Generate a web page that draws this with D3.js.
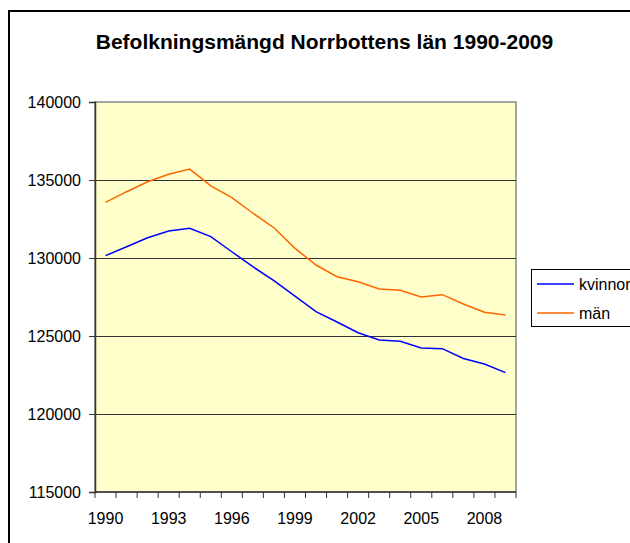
<!DOCTYPE html>
<html>
<head>
<meta charset="utf-8">
<script src="https://cdn.jsdelivr.net/npm/d3@7"></script>
<style>
  body { margin: 0; background: #fff; }
  svg { display: block; font-family: "Liberation Sans", Arial, sans-serif; }
</style>
</head>
<body>
<div id="chart"></div>
<script>
// Data
const years = d3.range(1990, 2010);
const kvinnor = [130150, 130720, 131300, 131730, 131900, 131370, 130400, 129440, 128550, 127560,
  126560, 125900, 125210, 124740, 124660, 124230, 124190, 123560, 123200, 122650];
const man = [133570, 134250, 134890, 135370, 135700, 134620, 133870, 132870, 131940, 130620,
  129550, 128800, 128480, 128010, 127930, 127500, 127650, 127050, 126520, 126350];
const yTicks = [115000, 120000, 125000, 130000, 135000, 140000];
const xLabels = [1990, 1993, 1996, 1999, 2002, 2005, 2008];
const seriesNames = ["kvinnor", "män"];
const seriesColors = ["#0000ff", "#ff6600"];

const W = 630, H = 543;
const plot = { left: 95, right: 516, top: 102, bottom: 492 };

const svg = d3.select("#chart").append("svg")
  .attr("width", W).attr("height", H);

// yttre ram
svg.append("rect")
  .attr("x", 9).attr("y", 11)
  .attr("width", 700).attr("height", 600)
  .attr("fill", "#fff").attr("stroke", "#000").attr("stroke-width", 2);

// titel
svg.append("text")
  .attr("x", 324.5).attr("y", 49)
  .attr("text-anchor", "middle")
  .style("font-size", "21px").style("font-weight", "bold")
  .text("Befolkningsmängd Norrbottens län 1990-2009");

// skalor
const x = d3.scaleBand().domain(years).range([plot.left, plot.right]).padding(0);
const y = d3.scaleLinear().domain([115000, 140000]).range([plot.bottom, plot.top]);

// bakgrund
svg.append("rect")
  .attr("x", plot.left).attr("y", plot.top)
  .attr("width", plot.right - plot.left).attr("height", plot.bottom - plot.top)
  .attr("fill", "#ffffcc").attr("stroke", "#888").attr("stroke-width", 1.5);

// rutnät
svg.append("g").selectAll("line")
  .data(yTicks.filter(d => d > 115000 && d < 140000))
  .join("line")
  .attr("x1", plot.left).attr("x2", plot.right)
  .attr("y1", d => Math.round(y(d)) + 0.5).attr("y2", d => Math.round(y(d)) + 0.5)
  .attr("stroke", "#333").attr("stroke-width", 1);

// y-axel
const yAxis = svg.append("g")
  .attr("transform", `translate(${plot.left},0)`)
  .call(d3.axisLeft(y).tickValues(yTicks).tickSize(6).tickPadding(8).tickFormat(d3.format("d")));
yAxis.select(".domain").attr("stroke", "#333").attr("stroke-width", 1.5);
yAxis.selectAll(".tick line").attr("stroke", "#333");
yAxis.selectAll("text").style("font-size", "16px").attr("fill", "#000");

// x-axel
const xAxis = svg.append("g").attr("transform", `translate(0,${plot.bottom})`);
xAxis.append("line")
  .attr("x1", plot.left).attr("x2", plot.right)
  .attr("stroke", "#333").attr("stroke-width", 1.5);
const bounds = years.map(d => x(d)).concat([x(years[years.length - 1]) + x.bandwidth()]);
xAxis.selectAll(".xt").data(bounds).join("line")
  .attr("class", "xt")
  .attr("x1", d => d).attr("x2", d => d)
  .attr("y1", 0).attr("y2", 6)
  .attr("stroke", "#333");
xAxis.selectAll("text").data(xLabels).join("text")
  .attr("x", d => x(d) + x.bandwidth() / 2)
  .attr("y", 32)
  .attr("text-anchor", "middle")
  .style("font-size", "16px")
  .text(d => d);

// linjer
const line = d3.line()
  .x((d, i) => x(years[i]) + x.bandwidth() / 2)
  .y(d => y(d));
[kvinnor, man].forEach((s, i) => {
  svg.append("path")
    .datum(s)
    .attr("d", line)
    .attr("fill", "none")
    .attr("stroke", seriesColors[i])
    .attr("stroke-width", 1.5);
});

// förklaring
const legend = svg.append("g").attr("transform", "translate(531,269)");
legend.append("rect")
  .attr("x", 0.5).attr("y", 0.5).attr("width", 120).attr("height", 57)
  .attr("fill", "#fff").attr("stroke", "#000").attr("stroke-width", 1);
seriesNames.forEach((n, i) => {
  const ly = 15 + i * 29;
  legend.append("line")
    .attr("x1", 6).attr("x2", 43).attr("y1", ly).attr("y2", ly)
    .attr("stroke", seriesColors[i]).attr("stroke-width", 1.5);
  legend.append("text")
    .attr("x", 48).attr("y", ly + 6)
    .style("font-size", "16px")
    .text(n);
});
</script>
</body>
</html>
